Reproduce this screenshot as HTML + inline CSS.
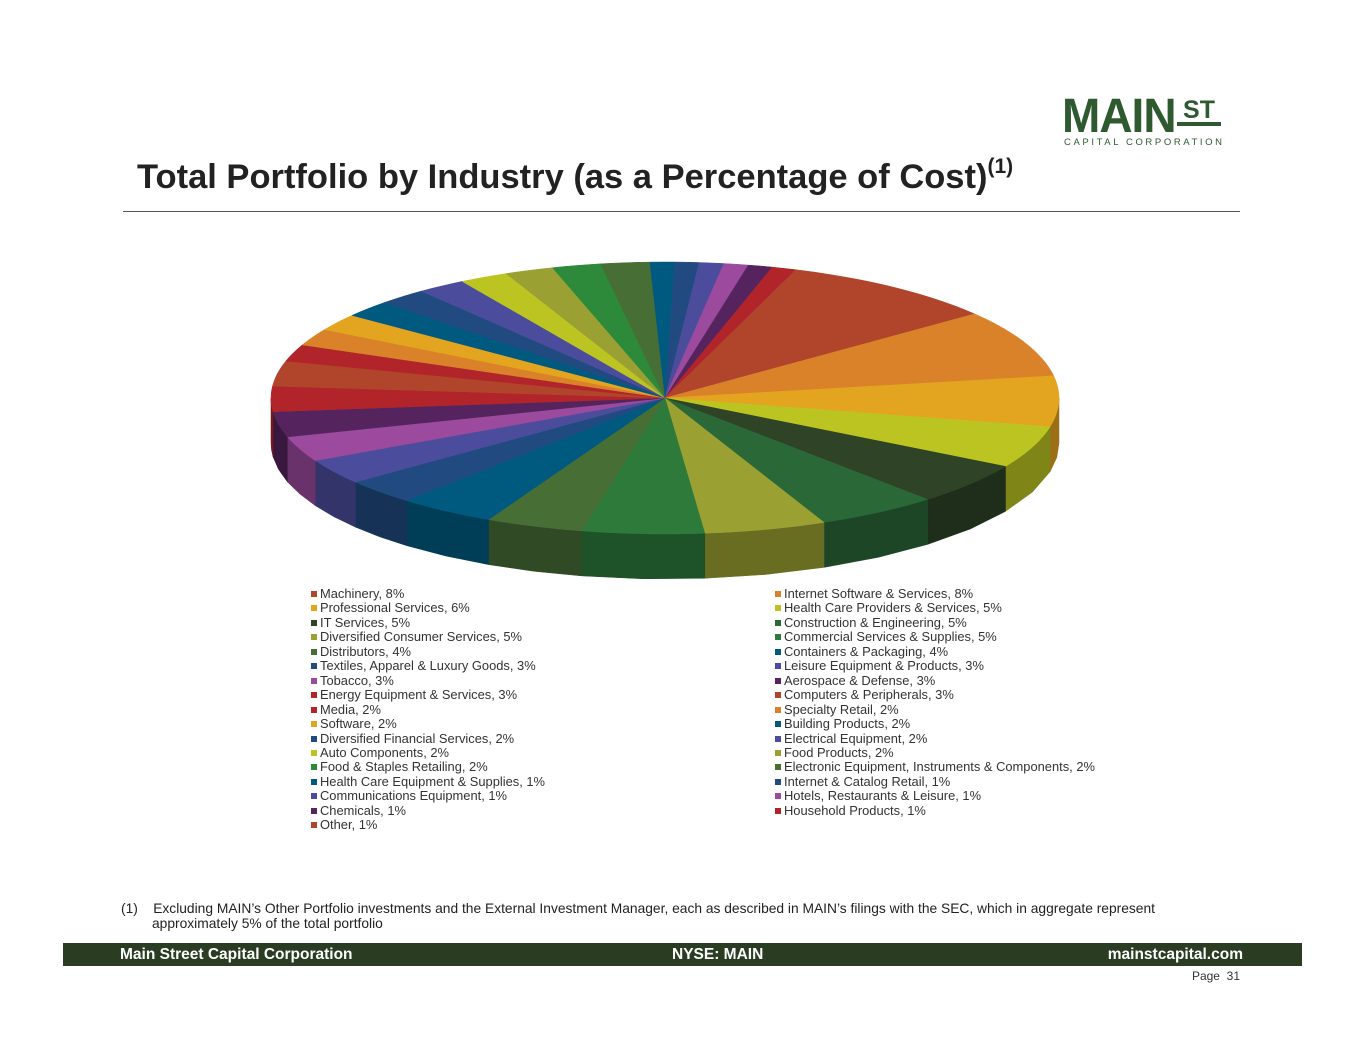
<!DOCTYPE html>
<html><head><meta charset="utf-8"><style>
body{margin:0;width:1365px;height:1055px;background:#fff;position:relative;font-family:"Liberation Sans",Arial,sans-serif;overflow:hidden}
.abs{position:absolute}
.leg{position:absolute;font-size:12.9px;color:#333;white-space:nowrap;line-height:14px}
.leg i{display:inline-block;width:6px;height:6px;margin-right:3px;vertical-align:1px}
</style></head><body>
<div class="abs" style="left:1062px;top:92px;width:170px;height:60px">
 <div style="position:absolute;left:0;top:-1px;font-size:46px;font-weight:bold;color:#2f5a30;letter-spacing:-1px;line-height:46px;transform:scaleY(1.05);transform-origin:top left">MAIN</div>
 <div style="position:absolute;left:115px;top:6px;font-size:25px;font-weight:bold;color:#2f5a30;line-height:24px;border-bottom:4px solid #2f5a30;width:44px;text-align:center">ST</div>
 <div style="position:absolute;left:2px;top:45px;font-size:9.5px;color:#2f5a30;letter-spacing:2.6px;white-space:nowrap">CAPITAL CORPORATION</div>
</div>
<div class="abs" style="left:137px;top:155px;font-size:34.5px;font-weight:bold;color:#222;white-space:nowrap">Total Portfolio by Industry (as a Percentage of Cost)<sup style="font-size:21px;vertical-align:15px">(1)</sup></div>
<div class="abs" style="left:123px;top:211px;width:1117px;height:1px;background:#555"></div>
<svg class="abs" style="left:0;top:0" width="1365" height="1055" id="pie"></svg>
<div id="legend"></div>
<div class="abs" style="left:121px;top:901px;font-size:13.8px;color:#222;line-height:15px">(1)&nbsp;&nbsp;&nbsp;&nbsp;Excluding MAIN’s Other Portfolio investments and the External Investment Manager, each as described in MAIN’s filings with the SEC, which in aggregate represent<br><span style="padding-left:31px">approximately 5% of the total portfolio</span></div>
<div class="abs" style="left:63px;top:943px;width:1239px;height:23px;background:#2a3d22;color:#fff;font-weight:bold;font-size:15.5px;line-height:23px">
 <span style="position:absolute;left:57px">Main Street Capital Corporation</span>
 <span style="position:absolute;left:609px">NYSE: MAIN</span>
 <span style="position:absolute;right:59px">mainstcapital.com</span>
</div>
<div class="abs" style="right:125px;top:969px;font-size:12px;color:#333">Page&nbsp; 31</div>
<script>
const categories=["Machinery","Internet Software & Services","Professional Services","Health Care Providers & Services","IT Services","Construction & Engineering","Diversified Consumer Services","Commercial Services & Supplies","Distributors","Containers & Packaging","Textiles, Apparel & Luxury Goods","Leisure Equipment & Products","Tobacco","Aerospace & Defense","Energy Equipment & Services","Computers & Peripherals","Media","Specialty Retail","Software","Building Products","Diversified Financial Services","Electrical Equipment","Auto Components","Food Products","Food & Staples Retailing","Electronic Equipment, Instruments & Components","Health Care Equipment & Supplies","Internet & Catalog Retail","Communications Equipment","Hotels, Restaurants & Leisure","Chemicals","Household Products","Other"];
const values=[8,8,6,5,5,5,5,5,4,4,3,3,3,3,3,3,2,2,2,2,2,2,2,2,2,2,1,1,1,1,1,1,1];
const colors=["#b0452c","#d9822a","#e3a41f","#bcc422","#2f4427","#2b6838","#9aa132","#2d7a3b","#466e35","#005a80","#214b80","#4b4d9c","#9b4a9e","#55245e","#b0242a","#b0452c","#b0242a","#d9822a","#e3a41f","#005a80","#214b80","#4b4d9c","#bcc422","#9aa132","#2d8a3b","#466e35","#005a80","#214b80","#4b4d9c","#9b4a9e","#55245e","#b0242a","#b0452c"];
const cx=665,cy=398,rx=394,ry=136,depth=45,start=23;
const svg=document.getElementById('pie');const NS="http://www.w3.org/2000/svg";
const total=values.reduce((a,b)=>a+b,0);
function pt(a,dy){const r=a*Math.PI/180;return [cx+rx*Math.sin(r),cy-ry*Math.cos(r)+(dy||0)];}
function dark(c,f){const n=parseInt(c.slice(1),16);const r=(n>>16)*f,g=((n>>8)&255)*f,b=(n&255)*f;return `rgb(${r|0},${g|0},${b|0})`;}
function arc(a1,a2,dy){let d="";const steps=Math.max(2,Math.ceil((a2-a1)/2));for(let i=0;i<=steps;i++){const p=pt(a1+(a2-a1)*i/steps,dy);d+=(i?"L":"")+p[0].toFixed(1)+","+p[1].toFixed(1);}return d;}
let ang=start;const spans=[];
values.forEach((v,i)=>{const a2=ang+v/total*360;spans.push([ang,a2]);ang=a2;});
spans.forEach(([a1,a2],i)=>{
 [[90,270],[450,630]].forEach(([L,H])=>{
  const s=Math.max(a1,L),e=Math.min(a2,H);
  if(e>s){
   const p=document.createElementNS(NS,'path');
   p.setAttribute('d',"M"+arc(s,e,0)+"L"+arc(e,s,depth)+"Z");
   p.setAttribute('fill',dark(colors[i],0.68));
   p.setAttribute('stroke',dark(colors[i],0.68));p.setAttribute('stroke-width','0.5');
   
   
   svg.appendChild(p);
  }
 });
});
spans.forEach(([a1,a2],i)=>{
 const p=document.createElementNS(NS,'path');
 p.setAttribute('d',`M${cx},${cy}L`+arc(a1,a2,0)+"Z");
 p.setAttribute('fill',colors[i]);p.setAttribute('stroke',colors[i]);p.setAttribute('stroke-width','0.5');
 
 
 svg.appendChild(p);
});
const leg=document.getElementById('legend');
categories.forEach((c,i)=>{
 const col=i%2,row=Math.floor(i/2);
 const d=document.createElement('div');d.className='leg';
 d.style.left=(col?775:311)+'px';d.style.top=(587+row*14.45)+'px';
 d.innerHTML=`<i style="background:${colors[i]}"></i>${c}, ${values[i]}%`;
 
 
 leg.appendChild(d);
});
</script>
</body></html>
